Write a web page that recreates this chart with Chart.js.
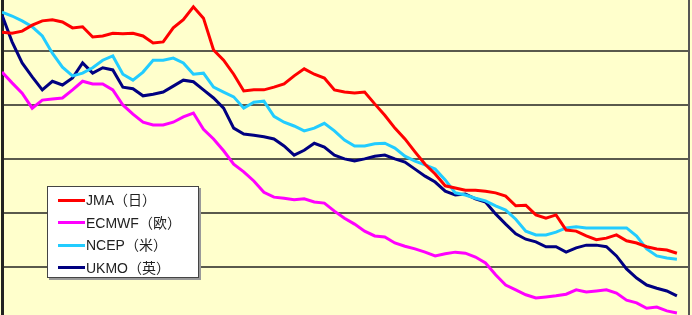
<!DOCTYPE html>
<html>
<head>
<meta charset="utf-8">
<script src="https://cdn.jsdelivr.net/npm/chart.js@4"></script>
<style>
  body { margin: 0; background: #FFFFCC; }
  #wrap { position: relative; width: 692px; height: 315px; }
  #legend {
    position: absolute; left: 47px; top: 186px; width: 150px; height: 88px;
    background: #fff; border: 1px solid #444; box-shadow: 2px 2px 0 #999;
    padding-top: 2px; box-sizing: content-box;
    font-family: "Liberation Sans", Arial, "Noto Sans CJK JP", sans-serif;
    font-size: 14px; color: #222;
  }
  #legend div { height: 22.5px; line-height: 22.5px; display: flex; align-items: center; padding-left: 10px; }
  #legend span.s { display: inline-block; width: 27px; height: 3px; margin-right: 1px; }
</style>
</head>
<body>
<div id="wrap">
  <canvas id="chart"></canvas>
  <div id="legend"></div>
</div>
<script>
const names = ["JMA（日）", "ECMWF（欧）", "NCEP（米）", "UKMO（英）"];
const colors = ["#ff0000", "#ff00ff", "#22ccff", "#000080"];

const jma = [535,533,537,548,556,558,554,543,545,526, 528,533,532,533,528,515,517,543,558,582,
  561,502,483,457,426,428,428,433,439,454, 467,457,450,428,424,422,424,402,381,357,
  337,313,290,272,250,246,242,242,240,237, 231,213,214,196,190,196,168,166,157,150,
  153,159,148,144,137,133,131,125];
const ecmwf = [461,441,422,394,409,411,413,428,444,439, 439,428,400,383,368,363,363,368,378,385,
  355,337,315,290,276,259,238,229,227,224, 226,220,218,203,190,179,166,157,155,144,
  138,133,127,120,124,127,125,118,107,85, 66,57,48,42,44,46,49,57,53,55,
  57,51,38,33,23,25,18,14];
const ncep = [572,565,556,545,528,496,470,454,459,469, 483,491,457,446,461,483,483,487,478,457,
  459,433,424,415,394,405,407,379,368,361, 352,357,366,352,335,324,324,328,329,320,
  305,296,289,281,261,237,233,227,222,213, 205,188,166,159,159,164,172,174,172,172,
  172,172,172,157,133,120,116,114];
const ukmo = [567,517,478,452,428,444,437,450,478,459, 469,465,433,430,417,420,424,435,446,443,
  428,413,394,357,346,344,341,337,324,307, 316,329,322,307,300,296,300,305,307,300,
  294,281,268,257,240,233,235,226,220,198, 179,161,151,146,137,137,127,135,140,140,
  137,120,96,79,66,60,55,46];
const gridValues = [100, 200, 300, 400, 500];
const labels = jma.map((_, i) => i);

const series = [jma, ecmwf, ncep, ukmo];

const legend = document.getElementById("legend");
names.forEach((n, i) => {
  const row = document.createElement("div");
  row.innerHTML = `<span class="s" style="background:${colors[i]}"></span>${n}`;
  legend.appendChild(row);
});

new Chart(document.getElementById("chart"), {
  type: "line",
  data: {
    labels: labels,
    datasets: series.map((d, i) => ({
      label: names[i],
      data: d,
      borderColor: colors[i],
      borderWidth: 3,
      pointRadius: 0,
      tension: 0,
      fill: false
    }))
  },
  options: {
    responsive: true,
    maintainAspectRatio: false,
    animation: false,
    layout: { padding: { left: 2, right: 3, top: 0, bottom: 0 } },
    plugins: { legend: { display: false }, tooltip: { enabled: false } },
    scales: {
      x: { type: "linear", display: false, min: 0, max: 68.2 },
      y: {
        min: 10.4, max: 594.7,
        afterBuildTicks: s => { s.ticks = gridValues.map(v => ({ value: v })); },
        ticks: { display: false },
        grid: { color: "#5a5a4c", lineWidth: 2, drawTicks: false },
        border: { display: true, color: "#222", width: 3 }
      },
      y2: {
        position: "right",
        ticks: { display: false },
        grid: { display: false, drawTicks: false },
        border: { display: true, color: "#555", width: 2 }
      }
    }
  }
});
</script>
</body>
</html>
